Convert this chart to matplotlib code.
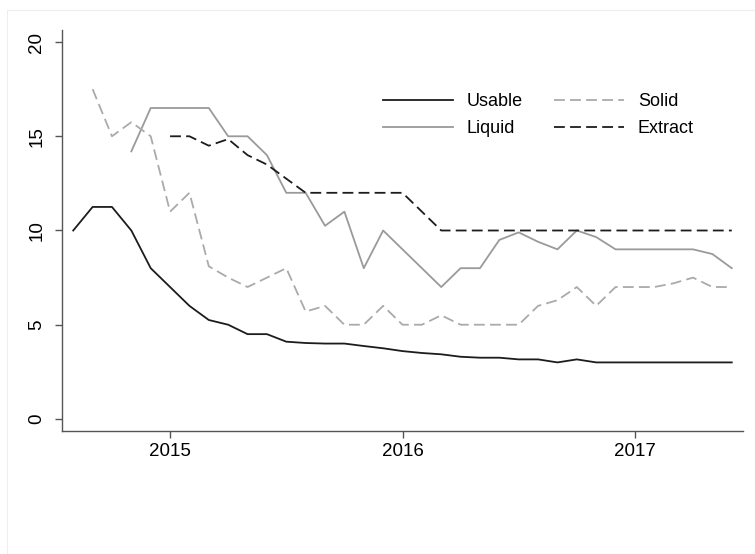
import matplotlib
matplotlib.use("Agg")
import matplotlib.pyplot as plt
from matplotlib.patches import Rectangle
import numpy as np

plt.rcParams['font.family'] = ['Liberation Sans', 'DejaVu Sans']

# Monthly series, Aug 2014 .. Jun 2017 (35 months)
start_year, start_month = 2014, 8
n_months = 35
months = np.array([start_year + (start_month - 1 + i) / 12.0 for i in range(n_months)])

nan = np.nan
usable = [10.0, 11.25, 11.25, 10.0, 8.0,
          7.0, 6.0, 5.25, 5.0, 4.5, 4.5, 4.1, 4.03, 4.0, 4.0, 3.87, 3.75,
          3.6, 3.5, 3.43, 3.3, 3.25, 3.25, 3.16, 3.16, 3.0, 3.16, 3.0, 3.0,
          3.0, 3.0, 3.0, 3.0, 3.0, 3.0]
solid = [nan, 17.5, 15.0, 15.75, 15.0,
         11.0, 12.0, 8.1, 7.5, 7.0, 7.5, 8.0, 5.7, 6.0, 5.0, 5.0, 6.0,
         5.0, 5.0, 5.5, 5.0, 5.0, 5.0, 5.0, 6.0, 6.3, 7.0, 6.0, 7.0,
         7.0, 7.0, 7.2, 7.5, 7.0, 7.0]
liquid = [nan, nan, nan, 14.2, 16.5,
          16.5, 16.5, 16.5, 15.0, 15.0, 14.0, 12.0, 12.0, 10.25, 11.0, 8.0, 10.0,
          9.0, 8.0, 7.0, 8.0, 8.0, 9.5, 9.9, 9.4, 9.0, 10.0, 9.65, 9.0,
          9.0, 9.0, 9.0, 9.0, 8.75, 8.0]
extract = [nan, nan, nan, nan, nan,
           15.0, 15.0, 14.5, 14.85, 14.0, 13.5, 12.75, 12.0, 12.0, 12.0, 12.0, 12.0,
           12.0, 11.0, 10.0, 10.0, 10.0, 10.0, 10.0, 10.0, 10.0, 10.0, 10.0, 10.0,
           10.0, 10.0, 10.0, 10.0, 10.0, 10.0]

x_ticks = [2015, 2016, 2017]
x_tick_labels = ["2015", "2016", "2017"]
y_ticks = [0, 5, 10, 15, 20]

fig = plt.figure(figsize=(7.55, 5.54), dpi=100)
fig.patches.append(Rectangle((7 / 755, 0), 1, 1 - 10 / 554, transform=fig.transFigure,
                             fill=False, edgecolor='#eeeeee', linewidth=0.8))
ax = fig.add_axes([62 / 755, 1 - 431 / 554, (743 - 62) / 755, (431 - 30) / 554])

lw = 1.3
dash = (0, (6, 2.9))
ax.plot(months, usable, color='#1c1c1c', lw=lw, label='Usable')
ax.plot(months, liquid, color='#9a9a9a', lw=lw, label='Liquid')
ax.plot(months, solid, color='#aaaaaa', lw=lw, ls=dash, label='Solid')
ax.plot(months, extract, color='#1c1c1c', lw=lw, ls=dash, label='Extract')

ax.set_xlim(2014.535, 2017.465)
ax.set_ylim(-0.64, 20.64)
ax.set_xticks(x_ticks)
ax.set_xticklabels(x_tick_labels)
ax.set_yticks(y_ticks)
ax.set_yticklabels([str(v) for v in y_ticks], rotation=90, va='center')

for s in ['top', 'right']:
    ax.spines[s].set_visible(False)
for s in ['left', 'bottom']:
    ax.spines[s].set_color('#555555')
    ax.spines[s].set_linewidth(1.0)
ax.tick_params(axis='both', colors='#555555', labelcolor='black', length=5,
               width=1.0, labelsize=13.5)
ax.tick_params(axis='x', pad=4)
ax.tick_params(axis='y', pad=7)

handles, labels = ax.get_legend_handles_labels()
fs = 13
leg = ax.legend(handles, labels, ncol=2,
                frameon=False, fontsize=fs, handlelength=3.9, handletextpad=0.75,
                columnspacing=1.7, labelspacing=0.55, borderpad=0.0,
                loc='upper left',
                bbox_to_anchor=((374 - 62) / (743 - 62), 1 - (84 - 30) / (431 - 30)))

fig.savefig('out.png', dpi=100, facecolor='white')
